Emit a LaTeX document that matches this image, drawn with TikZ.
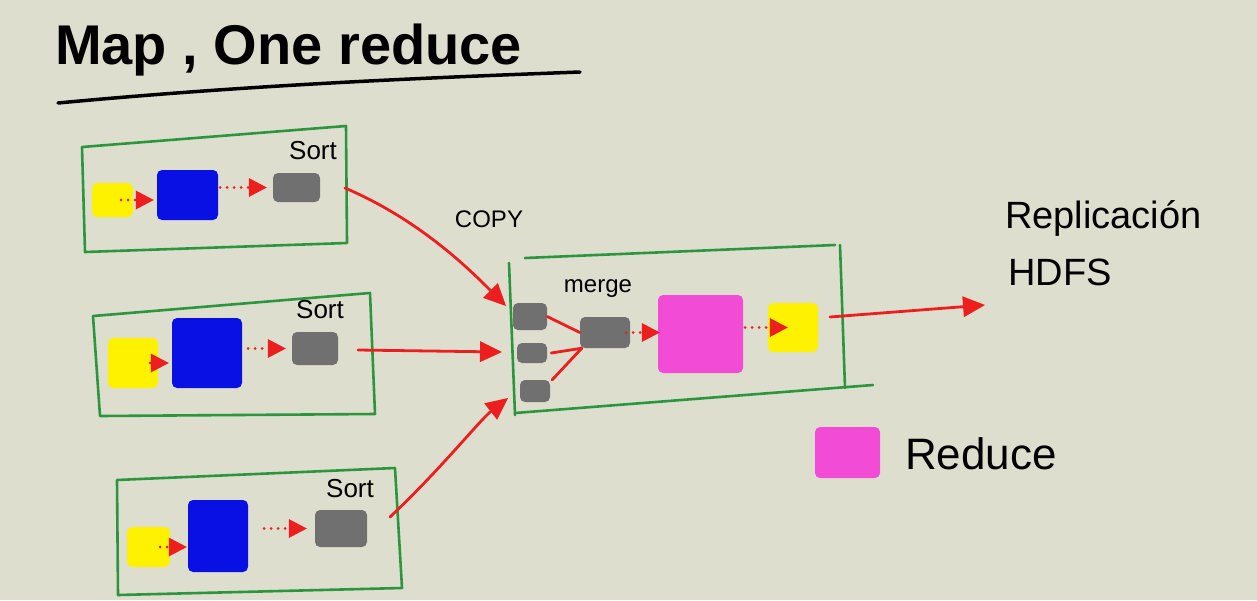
\documentclass[tikz,border=0pt]{standalone}
\usepackage{fontspec}
\setmainfont{Liberation Sans}
\usetikzlibrary{arrows.meta}
\definecolor{paper}{RGB}{222,222,207}
\definecolor{hyel}{RGB}{255,242,0}
\definecolor{hblue}{RGB}{8,16,228}
\definecolor{hgrey}{RGB}{112,112,112}
\definecolor{hmag}{RGB}{242,76,214}
\definecolor{hred}{RGB}{236,30,30}
\definecolor{hgreen}{RGB}{44,150,62}
\tikzset{
  blob/.style={fill=#1, draw=none, rounded corners=5pt, inner sep=0pt},
  gbox/.style={draw=hgreen, line width=2.6pt, line join=round, line cap=round},
  dotarrow/.style={draw=hred, line width=3pt, line cap=round, dash pattern=on 0pt off 7pt, -{Triangle[length=18pt,width=19pt,fill=hred,line width=0pt]}},
  bigarrow/.style={draw=hred, line width=2.8pt, line cap=round, -{Triangle[length=22pt,width=21pt,fill=hred,line width=0pt]}},
  redline/.style={draw=hred, line width=2.8pt, line cap=round, line join=round},
  lbl/.style={inner sep=0pt, text=black},
}
\begin{document}
\begin{tikzpicture}[x=1pt,y=-1pt]
\fill[paper] (0,0) rectangle (1257,600);
\useasboundingbox (0,0) rectangle (1257,600);

% title
\node[lbl, anchor=west, font=\fontsize{56}{60}\selectfont\bfseries] (title) at (55,50) {Map , One reduce};
\draw[line width=3.5pt, line cap=round] (58,103) .. controls (250,85) and (420,78) .. (580,72);

% map box 1
\draw[gbox] (82,147) -- (346,126) -- (347,243) -- (85,252) -- cycle;
\node[blob=hyel, minimum width=41pt, minimum height=34pt] (y1) at (112.5,200) {};
\node[blob=hblue, minimum width=61pt, minimum height=50pt] (b1) at (187.5,195) {};
\node[blob=hgrey, minimum width=47pt, minimum height=29pt] (g1) at (296.5,187.5) {};
\node[lbl, font=\fontsize{26}{28}\selectfont] (s1l) at (313,151) {Sort};
\draw[dotarrow] ([xshift=-12pt]y1.east) -- ([xshift=-3pt]b1.west |- y1.east);
\draw[dotarrow] ([xshift=2pt]b1.east |- g1.west) -- ([xshift=-6pt]g1.west);

% map box 2
\draw[gbox] (93,316) -- (370,293) -- (375,414) -- (100,416) -- cycle;
\node[blob=hyel, minimum width=50pt, minimum height=50pt] (y2) at (133,363) {};
\node[blob=hblue, minimum width=70pt, minimum height=70pt] (b2) at (207,353) {};
\node[blob=hgrey, minimum width=46pt, minimum height=33pt] (g2) at (315,348.5) {};
\node[lbl, font=\fontsize{26}{28}\selectfont] (s2l) at (320,310) {Sort};
\draw[dotarrow] ([xshift=-8pt]y2.east) -- ([xshift=-3pt]b2.west |- y2.east);
\draw[dotarrow] ([xshift=6pt]b2.east |- g2.west) -- ([xshift=-6pt]g2.west);

% map box 3
\draw[gbox] (117,480) -- (395,468) -- (402,588) -- (118,595) -- cycle;
\node[blob=hyel, minimum width=43pt, minimum height=40pt] (y3) at (148.5,547) {};
\node[blob=hblue, minimum width=60pt, minimum height=72pt] (b3) at (218,536) {};
\node[blob=hgrey, minimum width=52pt, minimum height=37pt] (g3) at (341,528.5) {};
\node[lbl, font=\fontsize{26}{28}\selectfont] (s3l) at (350,489) {Sort};
\draw[dotarrow] ([xshift=-10pt]y3.east) -- ([xshift=-1pt]b3.west |- y3.east);
\draw[dotarrow] ([xshift=16pt]b3.east |- g3.west) -- ([xshift=-8pt]g3.west);

% merge box
\draw[gbox] (509,263) -- (515,415);
\draw[gbox] (525,258) -- (835,245);
\draw[gbox] (840,245) -- (845,388);
\draw[gbox] (515,413) -- (873,385);
\node[blob=hgrey, minimum width=34pt, minimum height=27pt] (ms1) at (530,316.5) {};
\node[blob=hgrey, minimum width=30pt, minimum height=20pt] (ms2) at (532,353) {};
\node[blob=hgrey, minimum width=30pt, minimum height=22pt] (ms3) at (535,391) {};
\node[blob=hgrey, minimum width=50pt, minimum height=31pt] (gm) at (605,332.5) {};
\node[blob=hmag, minimum width=85pt, minimum height=78pt] (mg) at (700.5,334) {};
\node[blob=hyel, minimum width=50pt, minimum height=49pt] (ym) at (793,327.5) {};
\node[lbl, font=\fontsize{24}{26}\selectfont] (mergel) at (598,289) {merge};
\draw[redline] (ms1.east) -- (gm.west);
\coordinate (vx) at ([xshift=2pt]gm.south west);
\draw[redline] ([xshift=4pt]ms2.east) -- (vx) -- ([xshift=2pt]ms3.north east);
\draw[dotarrow] ([xshift=-4pt]gm.east) -- ([xshift=2pt]mg.west |- gm.east);
\draw[dotarrow] ([xshift=2pt]mg.east |- ym.west) -- ([xshift=20pt]ym.west);

% copy arrows
\coordinate (a1s) at (345,188);
\coordinate (a2s) at (358,350);
\coordinate (a3s) at (390,517);
\coordinate (a1e) at (506,306);
\coordinate (a2e) at (502,352);
\coordinate (a3e) at (508,398);
\draw[bigarrow] (a1s) .. controls (420,220) and (470,270) .. (a1e);
\draw[bigarrow] (a2s) -- (a2e);
\draw[bigarrow] (a3s) .. controls (440,470) and (480,420) .. (a3e);
\node[lbl, font=\fontsize{24}{26}\selectfont] (copyl) at (489,219) {COPY};

% output
\coordinate (outs) at (830,317);
\coordinate (oute) at (985,305);
\draw[bigarrow] (outs) -- (oute);
\node[lbl, anchor=west, font=\fontsize{38}{40}\selectfont] (repl) at (1005,218) {Replicación};
\node[lbl, anchor=west, font=\fontsize{38}{40}\selectfont] (hdfs) at (1008,272) {HDFS};

% legend
\node[blob=hmag, minimum width=65pt, minimum height=51pt] (lg) at (847.5,452.5) {};
\node[lbl, anchor=west, font=\fontsize{44}{46}\selectfont] (redl) at (905,454) {Reduce};
\end{tikzpicture}
\end{document}
